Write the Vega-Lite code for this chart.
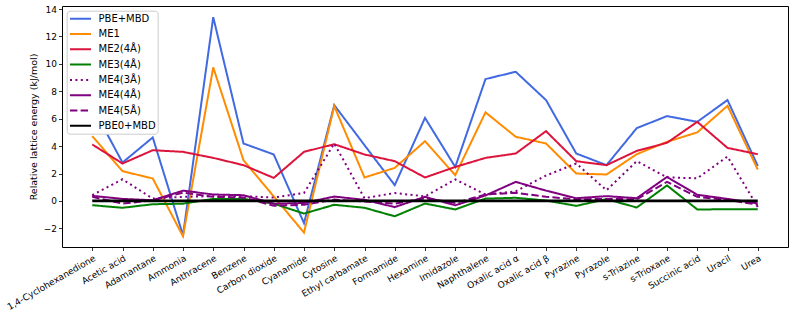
{
  "$schema": "https://vega.github.io/schema/vega-lite/v6.json",
  "width": 726,
  "height": 241,
  "autosize": {"type": "none"},
  "padding": {"left": 62, "top": 6, "right": 5, "bottom": 77},
  "config": {
    "font": "DejaVu Sans",
    "view": {"stroke": "black", "strokeWidth": 1},
    "axis": {
      "domain": false,
      "grid": false,
      "tickColor": "black",
      "tickSize": 3.5,
      "tickWidth": 0.8,
      "labelColor": "black",
      "labelFont": "DejaVu Sans",
      "labelFontSize": 9,
      "titleFont": "DejaVu Sans",
      "titleFontSize": 9.5,
      "titleFontWeight": "normal",
      "titleColor": "black",
      "labelPadding": 2
    }
  },
  "data": {
    "values": [
      {"mol": "1,4-Cyclohexanedione", "PBE+MBD": 6.9, "ME1": 4.73, "ME2(4Å)": 4.12, "ME3(4Å)": -0.31, "ME4(3Å)": 0.42, "ME4(4Å)": 0.37, "ME4(5Å)": 0.3, "PBE0+MBD": 0},
      {"mol": "Acetic acid", "PBE+MBD": 2.8, "ME1": 2.17, "ME2(4Å)": 2.73, "ME3(4Å)": -0.5, "ME4(3Å)": 1.58, "ME4(4Å)": 0.15, "ME4(5Å)": -0.2, "PBE0+MBD": 0},
      {"mol": "Adamantane", "PBE+MBD": 4.63, "ME1": 1.64, "ME2(4Å)": 3.7, "ME3(4Å)": -0.24, "ME4(3Å)": 0.17, "ME4(4Å)": 0.05, "ME4(5Å)": 0.05, "PBE0+MBD": 0},
      {"mol": "Ammonia", "PBE+MBD": -2.5, "ME1": -2.58, "ME2(4Å)": 3.58, "ME3(4Å)": -0.2, "ME4(3Å)": 0.3, "ME4(4Å)": 0.75, "ME4(5Å)": 0.6, "PBE0+MBD": 0},
      {"mol": "Anthracene", "PBE+MBD": 13.4, "ME1": 9.74, "ME2(4Å)": 3.14, "ME3(4Å)": 0.15, "ME4(3Å)": 0.35, "ME4(4Å)": 0.47, "ME4(5Å)": 0.3, "PBE0+MBD": 0},
      {"mol": "Benzene", "PBE+MBD": 4.19, "ME1": 2.97, "ME2(4Å)": 2.61, "ME3(4Å)": 0.15, "ME4(3Å)": 0.35, "ME4(4Å)": 0.42, "ME4(5Å)": 0.25, "PBE0+MBD": 0},
      {"mol": "Carbon dioxide", "PBE+MBD": 3.39, "ME1": 0.33, "ME2(4Å)": 1.68, "ME3(4Å)": -0.2, "ME4(3Å)": 0.25, "ME4(4Å)": -0.2, "ME4(5Å)": -0.35, "PBE0+MBD": 0},
      {"mol": "Cyanamide", "PBE+MBD": -1.62, "ME1": -2.31, "ME2(4Å)": 3.58, "ME3(4Å)": -0.92, "ME4(3Å)": 0.58, "ME4(4Å)": -0.15, "ME4(5Å)": -0.28, "PBE0+MBD": 0},
      {"mol": "Cytosine", "PBE+MBD": 6.99, "ME1": 6.92, "ME2(4Å)": 4.14, "ME3(4Å)": -0.28, "ME4(3Å)": 4.19, "ME4(4Å)": 0.32, "ME4(5Å)": 0.1, "PBE0+MBD": 0},
      {"mol": "Ethyl carbamate", "PBE+MBD": 4.07, "ME1": 1.71, "ME2(4Å)": 3.39, "ME3(4Å)": -0.5, "ME4(3Å)": 0.2, "ME4(4Å)": 0.08, "ME4(5Å)": -0.05, "PBE0+MBD": 0},
      {"mol": "Formamide", "PBE+MBD": 1.15, "ME1": 2.41, "ME2(4Å)": 2.9, "ME3(4Å)": -1.12, "ME4(3Å)": 0.58, "ME4(4Å)": -0.45, "ME4(5Å)": -0.2, "PBE0+MBD": 0},
      {"mol": "Hexamine", "PBE+MBD": 6.06, "ME1": 4.36, "ME2(4Å)": 1.71, "ME3(4Å)": -0.19, "ME4(3Å)": 0.33, "ME4(4Å)": 0.3, "ME4(5Å)": 0.2, "PBE0+MBD": 0},
      {"mol": "Imidazole", "PBE+MBD": 2.48, "ME1": 1.88, "ME2(4Å)": 2.48, "ME3(4Å)": -0.62, "ME4(3Å)": 1.57, "ME4(4Å)": -0.32, "ME4(5Å)": -0.15, "PBE0+MBD": 0},
      {"mol": "Naphthalene", "PBE+MBD": 8.89, "ME1": 6.46, "ME2(4Å)": 3.14, "ME3(4Å)": 0.17, "ME4(3Å)": 0.47, "ME4(4Å)": 0.4, "ME4(5Å)": 0.47, "PBE0+MBD": 0},
      {"mol": "Oxalic acid α", "PBE+MBD": 9.42, "ME1": 4.68, "ME2(4Å)": 3.46, "ME3(4Å)": 0.23, "ME4(3Å)": 0.7, "ME4(4Å)": 1.39, "ME4(5Å)": 0.6, "PBE0+MBD": 0},
      {"mol": "Oxalic acid β", "PBE+MBD": 7.36, "ME1": 4.19, "ME2(4Å)": 5.09, "ME3(4Å)": 0.03, "ME4(3Å)": 1.85, "ME4(4Å)": 0.75, "ME4(5Å)": 0.3, "PBE0+MBD": 0},
      {"mol": "Pyrazine", "PBE+MBD": 3.46, "ME1": 2.0, "ME2(4Å)": 2.9, "ME3(4Å)": -0.36, "ME4(3Å)": 2.73, "ME4(4Å)": 0.2, "ME4(5Å)": 0.12, "PBE0+MBD": 0},
      {"mol": "Pyrazole", "PBE+MBD": 2.61, "ME1": 1.93, "ME2(4Å)": 2.61, "ME3(4Å)": 0.13, "ME4(3Å)": 0.78, "ME4(4Å)": 0.35, "ME4(5Å)": 0.15, "PBE0+MBD": 0},
      {"mol": "s-Triazine", "PBE+MBD": 5.31, "ME1": 3.41, "ME2(4Å)": 3.65, "ME3(4Å)": -0.48, "ME4(3Å)": 2.9, "ME4(4Å)": 0.2, "ME4(5Å)": 0.12, "PBE0+MBD": 0},
      {"mol": "s-Trioxane", "PBE+MBD": 6.19, "ME1": 4.31, "ME2(4Å)": 4.24, "ME3(4Å)": 1.13, "ME4(3Å)": 1.72, "ME4(4Å)": 1.75, "ME4(5Å)": 1.39, "PBE0+MBD": 0},
      {"mol": "Succinic acid", "PBE+MBD": 5.77, "ME1": 5.0, "ME2(4Å)": 5.77, "ME3(4Å)": -0.62, "ME4(3Å)": 1.65, "ME4(4Å)": 0.45, "ME4(5Å)": 0.3, "PBE0+MBD": 0},
      {"mol": "Uracil", "PBE+MBD": 7.36, "ME1": 6.94, "ME2(4Å)": 3.87, "ME3(4Å)": -0.61, "ME4(3Å)": 3.24, "ME4(4Å)": 0.15, "ME4(5Å)": 0.08, "PBE0+MBD": 0},
      {"mol": "Urea", "PBE+MBD": 2.56, "ME1": 2.29, "ME2(4Å)": 3.41, "ME3(4Å)": -0.61, "ME4(3Å)": -0.44, "ME4(4Å)": -0.18, "ME4(5Å)": -0.27, "PBE0+MBD": 0}
    ]
  },
  "transform": [
    {"fold": ["PBE+MBD", "ME1", "ME2(4Å)", "ME3(4Å)", "ME4(3Å)", "ME4(4Å)", "ME4(5Å)", "PBE0+MBD"], "as": ["series", "value"]}
  ],
  "encoding": {
    "x": {
      "field": "mol", "type": "nominal", "sort": null,
      "scale": {"type": "point", "padding": 1.1},
      "axis": {"title": null, "labelAngle": -30, "labelAlign": "right", "labelBaseline": "top", "labelPadding": 3}
    },
    "y": {
      "field": "value", "type": "quantitative",
      "scale": {"domain": [-3.36, 14.22], "nice": false, "zero": false},
      "axis": {"values": [-2, 0, 2, 4, 6, 8, 10, 12, 14], "title": "Relative lattice energy (kJ/mol)", "titlePadding": 5}
    },
    "color": {
      "field": "series", "type": "nominal", "sort": null,
      "scale": {
        "domain": ["PBE+MBD", "ME1", "ME2(4Å)", "ME3(4Å)", "ME4(3Å)", "ME4(4Å)", "ME4(5Å)", "PBE0+MBD"],
        "range": ["#4169E1", "#FF8C00", "#DC143C", "#008000", "#800080", "#800080", "#800080", "#000000"]
      },
      "legend": {
        "title": null, "orient": "none", "legendX": 4.7, "legendY": 4.7,
        "symbolType": "M-2.1,0H2.1", "symbolSize": 100, "symbolStrokeWidth": 2,
        "symbolOffset": 5.8, "labelOffset": 12,
        "labelFontSize": 10, "labelFont": "DejaVu Sans", "labelColor": "black",
        "fillColor": "white", "strokeColor": "#cccccc", "padding": 2, "cornerRadius": 3,
        "rowPadding": 4.3
      }
    },
    "strokeDash": {
      "field": "series", "type": "nominal", "sort": null,
      "scale": {
        "domain": ["PBE+MBD", "ME1", "ME2(4Å)", "ME3(4Å)", "ME4(3Å)", "ME4(4Å)", "ME4(5Å)", "PBE0+MBD"],
        "range": [[1, 0], [1, 0], [1, 0], [1, 0], [2, 3.4], [1, 0], [7.4, 3.2], [1, 0]]
      },
      "legend": {
        "title": null, "orient": "none", "legendX": 4.7, "legendY": 4.7,
        "symbolType": "M-2.1,0H2.1", "symbolSize": 100, "symbolStrokeWidth": 2,
        "symbolOffset": 5.8, "labelOffset": 12,
        "labelFontSize": 10, "labelFont": "DejaVu Sans", "labelColor": "black",
        "fillColor": "white", "strokeColor": "#cccccc", "padding": 2, "cornerRadius": 3,
        "rowPadding": 4.3
      }
    }
  },
  "layer": [
    {
      "transform": [{"filter": "datum.series != 'PBE0+MBD'"}],
      "mark": {"type": "line", "strokeWidth": 2, "strokeCap": "butt"}
    },
    {
      "transform": [{"filter": "datum.series == 'PBE0+MBD'"}],
      "mark": {"type": "line", "strokeWidth": 2.8, "strokeCap": "butt"}
    }
  ]
}
